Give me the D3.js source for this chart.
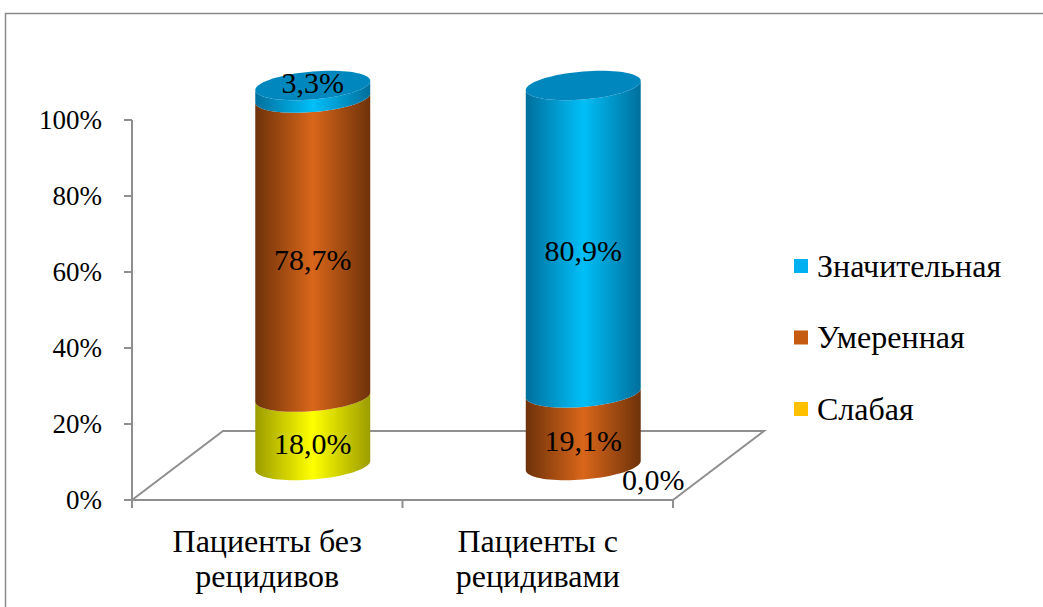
<!DOCTYPE html><html><meta charset="UTF-8">
<title>Chart</title>
<style>
  body { margin: 0; overflow: hidden; background: #fff; }
</style>
<script src="https://cdn.jsdelivr.net/npm/d3@7"></script>
<svg width="1043" height="607" font-family="'Liberation Serif', 'Times New Roman', Times, serif"></svg>
<script>

// data
var categories = ["Пациенты без рецидивов", "Пациенты с рецидивами"];
var catLines = [["Пациенты без", "рецидивов"], ["Пациенты с", "рецидивами"]];
var seriesNames = ["Слабая", "Умеренная", "Значительная"];
var slabaya = [18.0, 0.0];
var umerennaya = [78.7, 19.1];
var znachitelnaya = [3.3, 80.9];
var yTicks = [0, 20, 40, 60, 80, 100];

var svg = d3.select("svg");
var serif = "'Liberation Serif', 'Times New Roman', Times, serif";

// colours: [edge, light, top face]
var sideCols = {
  "Слабая": ["#9c9c00", "#ffff00", "#d8d800"],
  "Умеренная": ["#6e3209", "#d9661a", "#a84d10"],
  "Значительная": ["#006f9c", "#00bff8", "#0087bd"]
};
var legendCols = {"Слабая": "#ffc000", "Умеренная": "#c55a11", "Значительная": "#00b0f0"};

// outer frame
svg.append("rect").attr("x", 5.5).attr("y", 13.5).attr("width", 1100).attr("height", 700)
  .attr("fill", "none").attr("stroke", "#8a8a8a").attr("stroke-width", 1.5);

var x = d3.scaleBand().domain(categories).range([132, 673]).padding(0);
var y = d3.scaleLinear().domain([0, 100]).range([500, 120]);

var depthX = 91, depthY = -69; // floor depth
var gray = "#8f8f8f";

// floor
var x0 = x.range()[0], x1 = x.range()[1];
svg.append("path")
  .attr("d", "M" + x0 + "," + y(0) + "L" + (x0 + depthX) + "," + (y(0) + depthY) +
             "L" + (x1 + depthX) + "," + (y(0) + depthY) + "L" + x1 + "," + y(0))
  .attr("fill", "none").attr("stroke", gray).attr("stroke-width", 2);
svg.append("line").attr("x1", x0).attr("x2", x1).attr("y1", y(0)).attr("y2", y(0))
  .attr("stroke", gray).attr("stroke-width", 2);

// y axis
svg.append("line").attr("x1", x0).attr("x2", x0).attr("y1", y(0)).attr("y2", y(100))
  .attr("stroke", gray).attr("stroke-width", 2);
var yt = svg.append("g");
yt.selectAll("line").data(yTicks).enter().append("line")
  .attr("x1", x0 - 8).attr("x2", x0).attr("y1", d => y(d)).attr("y2", d => y(d))
  .attr("stroke", gray).attr("stroke-width", 2);
yt.selectAll("text").data(yTicks).enter().append("text")
  .attr("x", 102).attr("y", d => y(d)).attr("dy", "0.34em")
  .attr("text-anchor", "end").style("font-family", serif).style("font-size", "27px")
  .text(d => d + "%");

// category ticks
var catTicks = [x0].concat(categories.map(c => x(c) + x.bandwidth()));
svg.selectAll(".ct").data(catTicks).enter().append("line")
  .attr("x1", d => d).attr("x2", d => d).attr("y1", y(0)).attr("y2", y(0) + 8)
  .attr("stroke", gray).attr("stroke-width", 2);

// category labels
categories.forEach(function(c, i) {
  var t = svg.append("text").attr("x", x(c) + x.bandwidth() / 2).attr("y", 552)
    .attr("text-anchor", "middle").style("font-family", serif).style("font-size", "32px");
  catLines[i].forEach(function(l, j) {
    t.append("tspan").attr("x", x(c) + x.bandwidth() / 2).attr("dy", j ? 35 : 0).text(l);
  });
});

// gradients
var defs = svg.append("defs");
seriesNames.forEach(function(s, i) {
  var g = defs.append("linearGradient").attr("id", "g" + i)
    .attr("x1", "0").attr("x2", "1").attr("y1", "0").attr("y2", "0");
  g.append("stop").attr("offset", "0").attr("stop-color", sideCols[s][0]);
  g.append("stop").attr("offset", "0.5").attr("stop-color", sideCols[s][1]);
  g.append("stop").attr("offset", "1").attr("stop-color", sideCols[s][0]);
});

var values = [slabaya, umerennaya, znachitelnaya];
var rx = x.bandwidth() * 0.2125, ry = 14, shear = 0.08;

function ellPt(cx, cy, t) {
  return [cx + rx * Math.cos(t), cy + ry * Math.sin(t) - shear * rx * Math.cos(t)];
}
function frontArc(cx, cy, reverse) {
  var pts = d3.range(0, 41).map(i => ellPt(cx, cy, Math.PI - Math.PI * i / 40));
  if (reverse) pts.reverse();
  return pts;
}

var line = d3.line();

categories.forEach(function(c, ci) {
  var cx = x(c) + x.bandwidth() / 2 + depthX / 2;
  var cum = 0;
  var segs = [];
  values.forEach(function(arr, si) {
    segs.push({s: si, v: arr[ci], lo: cum, hi: cum + arr[ci]});
    cum += arr[ci];
  });
  var g = svg.append("g");
  var last = null;
  segs.forEach(function(sg) {
    if (sg.v <= 0) return;
    var yLo = y(sg.lo) + depthY / 2, yHi = y(sg.hi) + depthY / 2;
    var pts = frontArc(cx, yLo, false).concat(frontArc(cx, yHi, true));
    g.append("path").attr("d", line(pts) + "Z").attr("fill", "url(#g" + sg.s + ")");
    last = sg;
  });
  // top face
  if (last) {
    var yTop = y(last.hi) + depthY / 2;
    var tp = d3.range(0, 81).map(i => ellPt(cx, yTop, 2 * Math.PI * i / 80));
    g.append("path").attr("d", line(tp) + "Z").attr("fill", sideCols[seriesNames[last.s]][2]);
  }
  // labels
  segs.forEach(function(sg) {
    var lx = cx, ly;
    var yLo = y(sg.lo) + depthY / 2, yHi = y(sg.hi) + depthY / 2;
    if (sg.v <= 0) { lx = cx + 70; ly = yLo + 14; }
    else if (yLo - yHi < 30) { ly = yHi - 3; }
    else { ly = (yLo + yHi) / 2 + 12; }
    svg.append("text").attr("x", lx).attr("y", ly).attr("dy", "0.34em")
      .attr("text-anchor", "middle").style("font-family", serif).style("font-size", "30px")
      .text(sg.v.toFixed(1).replace(".", ",") + "%");
  });
});

// legend
var legendOrder = seriesNames.slice().reverse();
var lg = svg.selectAll(".lg").data(legendOrder).enter().append("g")
  .attr("transform", (d, i) => "translate(794," + (266 + i * 71.5) + ")");
lg.append("rect").attr("x", 0).attr("y", -7).attr("width", 14).attr("height", 14)
  .attr("fill", d => legendCols[d]);
lg.append("text").attr("x", 23).attr("dy", "0.34em")
  .style("font-family", serif).style("font-size", "32px").text(d => d);

</script>
